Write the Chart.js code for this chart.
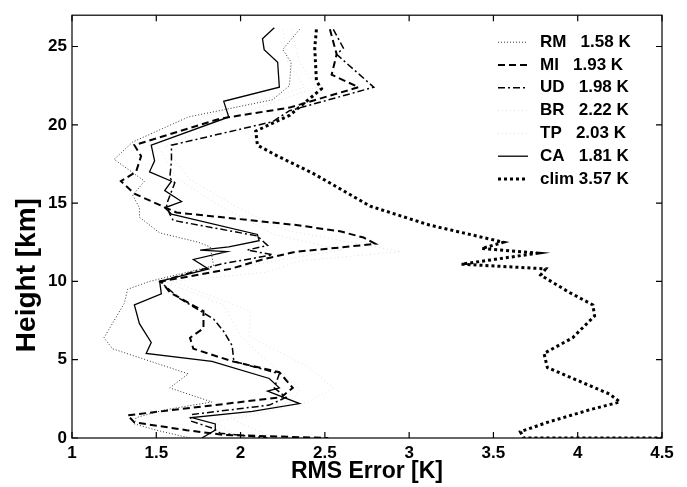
<!DOCTYPE html>
<html><head><meta charset="utf-8">
<script src="https://cdn.jsdelivr.net/npm/chart.js@4.4.1/dist/chart.umd.min.js"></script>
<style>html,body{margin:0;padding:0;background:#fff}#wrap{width:687px;height:487px}</style>
</head><body><div id="wrap"><canvas id="c" width="687" height="487"></canvas></div>
<script>
// ---- tick labels ----
const xTicks = [1, 1.5, 2, 2.5, 3, 3.5, 4, 4.5];
const yTicks = [0, 5, 10, 15, 20, 25];

// ---- axis titles ----
const xTitle = 'RMS Error [K]';
const yTitle = 'Height [km]';

// ---- legend text ----
const seriesNames  = ['RM', 'MI', 'UD', 'BR', 'TP', 'CA', 'clim'];
const seriesScores = ['1.58 K', '1.93 K', '1.98 K', '2.22 K', '2.03 K', '1.81 K', '3.57 K'];

// ---- RM ----
const rmHeight = [26.1, 24.8, 24.0, 22.5, 21.6, 20.5, 18.9, 17.8, 16.4, 15.5, 14.7, 14.1, 13.1, 12.5, 12.2, 11.0, 10.0, 9.5, 8.6, 6.4, 5.7, 5.2, 4.1, 3.2, 2.3, 1.8, 1.3, 0.9, 0.5, 0.0];
const rmError  = [2.35, 2.25, 2.30, 2.29, 2.19, 1.69, 1.36, 1.25, 1.43, 1.36, 1.40, 1.40, 1.52, 1.75, 1.82, 1.84, 1.46, 1.33, 1.31, 1.19, 1.24, 1.38, 1.69, 1.58, 1.83, 1.55, 1.38, 1.37, 1.50, 1.70];

// ---- MI ----
const miHeight = [26.1, 24.5, 23.2, 22.4, 21.1, 20.4, 18.7, 18.0, 17.0, 16.4, 15.6, 14.4, 13.6, 13.2, 12.8, 12.4, 12.1, 11.9, 11.4, 10.8, 10.0, 9.3, 8.1, 7.0, 6.4, 5.7, 4.9, 4.2, 3.2, 2.6, 1.45, 1.0, 0.5, 0.2, 0.0];
const miError  = [2.53, 2.57, 2.54, 2.70, 2.29, 1.88, 1.37, 1.41, 1.38, 1.29, 1.37, 1.62, 2.33, 2.59, 2.73, 2.80, 2.53, 2.33, 2.13, 1.94, 1.53, 1.58, 1.78, 1.78, 1.70, 1.72, 1.95, 2.23, 2.31, 2.24, 1.33, 1.37, 1.68, 1.90, 2.52];

// ---- UD ----
const udHeight = [26.1, 24.9, 24.5, 22.4, 20.9, 20.2, 18.7, 17.7, 16.6, 16.3, 14.9, 14.3, 13.9, 12.9, 12.3, 12.0, 11.7, 11.1, 10.0, 8.9, 7.6, 6.8, 5.9, 4.9, 4.1, 3.2, 2.6, 2.1, 1.5, 1.1, 0.6, 0.3, 0.0];
const udError  = [2.55, 2.61, 2.57, 2.79, 2.29, 2.19, 1.59, 1.59, 1.58, 1.61, 1.56, 1.58, 1.60, 2.10, 2.16, 2.04, 2.19, 1.88, 1.52, 1.64, 1.84, 1.90, 1.95, 1.96, 2.23, 2.20, 2.27, 2.17, 1.71, 1.70, 1.84, 1.88, 2.16];

// ---- BR (faint) ----
const brHeight = [26.1, 24.0, 22.4, 20.5, 18.6, 16.5, 14.8, 13.3, 11.9, 11.3, 10.6, 10.0, 8.1, 6.5, 4.6, 3.2, 2.3, 1.2, 0.0];
const brError  = [2.30, 2.35, 2.45, 1.95, 1.55, 1.70, 1.97, 2.25, 2.95, 2.35, 2.16, 1.60, 2.06, 2.05, 2.39, 2.55, 2.40, 1.95, 2.20];

// ---- TP (faint) ----
const tpHeight = [26.1, 24.0, 22.4, 20.6, 18.8, 16.6, 15.0, 13.0, 12.0, 11.4, 10.0, 8.5, 6.5, 4.5, 3.1, 2.3, 1.0, 0.0];
const tpError  = [2.25, 2.28, 2.38, 1.80, 1.50, 1.62, 1.85, 2.20, 2.60, 2.25, 1.55, 1.90, 2.00, 2.20, 2.35, 2.30, 1.85, 2.00];

// ---- CA ----
const caHeight = [26.2, 25.5, 24.8, 24.0, 22.4, 21.5, 20.5, 18.7, 17.7, 17.0, 16.4, 15.8, 15.1, 14.7, 14.3, 13.0, 12.6, 12.2, 12.0, 11.9, 11.4, 10.8, 10.0, 9.2, 8.5, 7.3, 6.1, 5.4, 4.9, 3.8, 3.2, 3.0, 2.2, 1.7, 1.3, 0.9, 0.5, 0.0];
const caError  = [2.20, 2.13, 2.14, 2.22, 2.23, 1.90, 1.93, 1.47, 1.49, 1.46, 1.59, 1.55, 1.65, 1.55, 1.59, 2.10, 2.11, 1.93, 1.76, 1.92, 1.72, 1.81, 1.52, 1.53, 1.37, 1.40, 1.47, 1.44, 1.83, 2.17, 2.23, 2.16, 2.35, 2.07, 1.71, 1.85, 1.85, 1.77];

// ---- clim ----
const climHeight = [26.1, 24.9, 22.8, 22.3, 20.6, 19.6, 18.7, 18.0, 16.9, 14.8, 13.6, 12.5, 12.1, 11.8, 11.1, 10.8, 10.4, 9.3, 8.5, 7.8, 6.4, 5.4, 4.5, 2.8, 2.3, 1.8, 1.0, 0.4, 0.0, 0.0];
const climError  = [2.45, 2.44, 2.45, 2.48, 2.29, 2.09, 2.10, 2.22, 2.43, 2.77, 3.12, 3.56, 3.43, 3.76, 3.31, 3.81, 3.78, 3.95, 4.09, 4.10, 3.97, 3.80, 3.82, 4.19, 4.25, 4.07, 3.82, 3.66, 3.68, 4.50];

const pts = (h, e) => h.map((v, i) => ({ x: e[i], y: v }));

const FONT = "'Liberation Sans', Arial, Helvetica, sans-serif";

const styles = [
  { color: '#333', width: 1,   dash: [1, 2] },
  { color: '#000', width: 2,   dash: [7, 4] },
  { color: '#000', width: 1.5, dash: [7, 3, 2, 3] },
  { color: 'rgba(0,0,0,0.12)', width: 1, dash: [1, 3] },
  { color: 'rgba(0,0,0,0.12)', width: 1, dash: [1, 3] },
  { color: '#000', width: 1.3, dash: [] },
  { color: '#000', width: 3,   dash: [3, 3] }
];
const seriesData = [
  pts(rmHeight, rmError), pts(miHeight, miError), pts(udHeight, udError),
  pts(brHeight, brError), pts(tpHeight, tpError), pts(caHeight, caError),
  pts(climHeight, climError)
];

const datasets = seriesNames.map((n, i) => ({
  label: n + (n === 'clim' ? ' ' : '   ') + seriesScores[i],
  data: seriesData[i],
  showLine: true,
  borderColor: styles[i].color,
  borderWidth: styles[i].width,
  borderDash: styles[i].dash,
  borderCapStyle: 'butt',
  pointRadius: 0,
  tension: 0,
  fill: false
}));

const framePlugin = {
  id: 'frame',
  afterDraw(chart) {
    const { ctx, chartArea: { left, right, top, bottom }, scales: { x, y } } = chart;
    ctx.save();
    ctx.strokeStyle = '#000';
    ctx.lineWidth = 1.2;
    ctx.setLineDash([]);
    ctx.strokeRect(left, top, right - left, bottom - top);
    const L = 6;
    ctx.beginPath();
    xTicks.forEach(v => {
      const px = x.getPixelForValue(v);
      ctx.moveTo(px, bottom); ctx.lineTo(px, bottom - L);
      ctx.moveTo(px, top); ctx.lineTo(px, top + L);
    });
    yTicks.forEach(v => {
      const py = y.getPixelForValue(v);
      ctx.moveTo(left, py); ctx.lineTo(left + L, py);
      ctx.moveTo(right, py); ctx.lineTo(right - L, py);
    });
    ctx.stroke();

    // y-axis title (placed as in the reference, below the axis centre)
    ctx.save();
    ctx.translate(27, y.getPixelForValue(10.4));
    ctx.rotate(-Math.PI / 2);
    ctx.font = 'bold 28px ' + FONT;
    ctx.fillStyle = '#000';
    ctx.textAlign = 'center';
    ctx.textBaseline = 'middle';
    ctx.fillText(yTitle, 0, 0);
    ctx.restore();

    // legend inside plot
    const x1 = 498, x2 = 528, tx = 540;
    let yy = top + 27;
    ctx.font = 'bold 17px ' + FONT;
    ctx.textBaseline = 'middle';
    ctx.textAlign = 'left';
    chart.data.datasets.forEach((ds, i) => {
      ctx.beginPath();
      ctx.strokeStyle = ds.borderColor;
      ctx.lineWidth = ds.borderWidth;
      ctx.setLineDash(ds.borderDash);
      ctx.lineCap = 'butt';
      ctx.moveTo(x1, yy); ctx.lineTo(x2, yy);
      ctx.stroke();
      ctx.fillStyle = '#000';
      ctx.fillText(ds.label, tx, yy);
      yy += 22.8;
    });
    ctx.restore();
  }
};

new Chart(document.getElementById('c'), {
  type: 'scatter',
  data: { datasets },
  options: {
    responsive: false,
    animation: false,
    devicePixelRatio: 1,
    layout: { padding: { top: 10, right: 25, left: 0, bottom: 0 } },
    plugins: { legend: { display: false }, tooltip: { enabled: false } },
    scales: {
      x: {
        type: 'linear', min: 1, max: 4.5,
        afterBuildTicks: s => { s.ticks = xTicks.map(v => ({ value: v })); },
        afterFit: s => { s.height = 49; },
        grid: { display: false, drawTicks: false },
        border: { display: false },
        ticks: { color: '#000', font: { family: FONT, size: 17, weight: 'bold' }, padding: 5, maxRotation: 0, autoSkip: false, callback: v => String(v) },
        title: { display: true, text: xTitle, color: '#000', font: { family: FONT, size: 23, weight: 'bold' }, padding: { top: 0, bottom: 2 } }
      },
      y: {
        type: 'linear', min: 0, max: 27,
        afterBuildTicks: s => { s.ticks = yTicks.map(v => ({ value: v })); },
        afterFit: s => { s.width = 72; },
        grid: { display: false, drawTicks: false },
        border: { display: false },
        ticks: { color: '#000', font: { family: FONT, size: 17, weight: 'bold' }, padding: 5, autoSkip: false, callback: v => String(v) },
        title: { display: false }
      }
    }
  },
  plugins: [framePlugin]
});
</script>
</body></html>
